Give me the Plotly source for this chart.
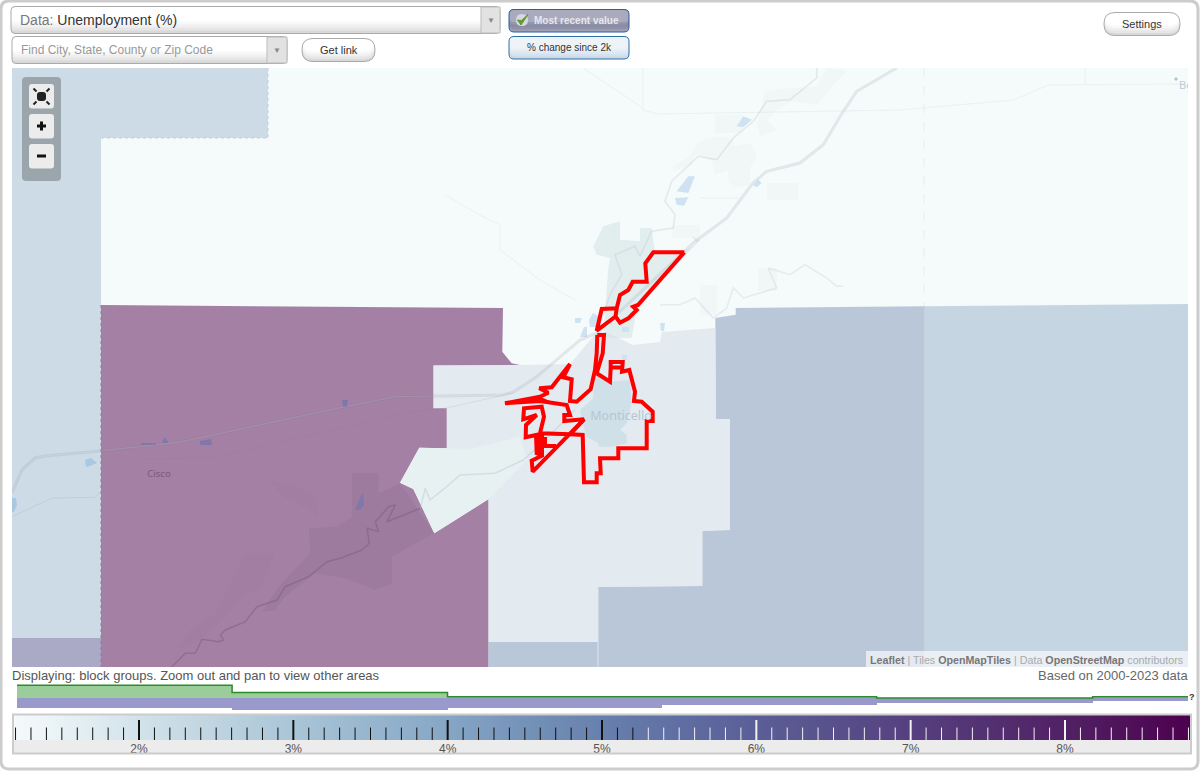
import numpy as np
import plotly.graph_objects as go

# histogram under the legend (bin edges in %, bar heights)
hist_edges = [1.209, 2.603, 3.999, 5.39, 6.78, 8.18, 8.798]
green_vals = [12.7, 5.4, 1.2, 1.2, 0.0, 1.2]
purple_vals = [9.6, 12.4, 9.6, 7.3, 4.6, 3.0]

# legend colour ramp
ramp_vals = [1.19, 1.6, 2, 2.5, 3, 3.5, 4, 4.5, 5, 5.5, 6, 6.5, 7, 7.5, 8, 8.4, 8.81]
ramp_cols = ["#f4fafb", "#e4eff3", "#d2e2ea", "#bed4e0", "#a9c5d8", "#97b5ce", "#86a6c5", "#7492b8",
             "#6880ad", "#5f6ea2", "#5b5e96", "#58508b", "#56407f", "#533071", "#512164", "#4f1159", "#4d004f"]
legend_major = [2, 3, 4, 5, 6, 7, 8]
legend_labels = ["2%", "3%", "4%", "5%", "6%", "7%", "8%"]

# block group polygons, map pixels
poly_left = [(12, 68), (268, 68), (268, 138), (101, 138), (101, 638), (12, 638)]
poly_left_low = [(12, 638), (101, 638), (101, 667), (12, 667)]
poly_purple = [(101, 305), (503, 308), (502.3, 351.7), (511.7, 363.3), (520, 365), (433.3, 365.3), (433.3, 408.3),
               (446.7, 408.3), (446.7, 448.3), (419.3, 447.7), (400, 482.7), (413.3, 489), (434.3, 533.3),
               (488.3, 499.3), (488.3, 667), (101, 667)]
poly_centre = [(433.3, 365.3), (520, 365), (570, 364), (597, 332), (606, 332), (633, 345), (660, 342), (662, 332),
               (715.3, 328), (715.7, 419), (730, 419), (730, 530), (702.3, 530.7), (702.3, 586), (598, 586.7),
               (598, 641.7), (488.3, 641.7), (488.3, 499.3), (434.3, 533.3), (413.3, 489), (400, 482.7),
               (419.3, 447.7), (446.7, 448.3), (446.7, 408.3), (433.3, 408.3)]
poly_right = [(598, 586.7), (702.3, 586), (702.3, 530.7), (730, 530), (730, 419), (715.7, 419), (715.3, 318),
              (735.7, 314.7), (735.7, 308), (924, 306.3), (924, 667), (488.3, 667), (488.3, 641.7), (598, 641.7)]
poly_far_right = [(924, 306.3), (1188, 304), (1188, 667), (924, 667)]
poly_river_band = [(400, 482.7), (419.3, 447.7), (446.7, 448.3), (466.7, 450), (520, 436.7), (526.7, 460),
                   (488.3, 499.3), (434.3, 533.3), (413.3, 489)]
poly_town = [(580, 410), (593.3, 398.3), (595, 373.3), (610, 381.7), (630, 380), (631.7, 403.3), (626.7, 423.3),
             (620, 430), (626.7, 435), (626.7, 443.3), (611.7, 446.7), (598.3, 446.7), (598.3, 443.3),
             (586.7, 436.7), (581.7, 420)]
poly_north_town = [(593.3, 246.3), (603.3, 226.3), (620, 221.3), (620, 239.7), (640, 241.3), (640, 228),
                   (651.7, 228), (653.3, 241.3), (655, 251), (685, 251), (696.7, 243), (691.7, 236.3),
                   (700, 240), (636.7, 308), (631.7, 338), (603.3, 338), (608.3, 268), (610, 258), (596.7, 254.7)]
poly_south_dark = [(352, 473.3), (378.7, 473.3), (378.7, 493.3), (400.3, 483.3), (433.7, 533.3), (392, 556.7),
                   (392, 583.3), (375.3, 590), (345.3, 578.3), (315.3, 573.3), (285.3, 596.7), (275, 610),
                   (262, 612), (280, 585), (310.3, 553.3), (308.7, 528.3), (337, 526.7), (352, 516.7)]
poly_faint_a = [(765, 91), (793, 88), (817, 86), (827, 68), (847, 71), (833, 85), (817, 105), (793, 101), (777, 110),
                (767, 120), (777, 130), (760, 136), (757, 125)]
poly_faint_b = [(696.7, 144.7), (706.7, 138), (723.3, 136.3), (733.3, 139.7), (733.3, 146.3), (750, 143),
                (756.7, 156.3), (750, 168), (750, 184.7), (735, 188), (728.3, 181.3), (728.3, 171.3), (715, 174.7),
                (711.7, 161.3), (698.3, 154.7), (693.3, 156.3), (691.7, 164.7), (673.3, 171.3), (673.3, 166.3),
                (690, 156.3)]
poly_faint_c = [(715, 115), (742, 115), (742, 133), (715, 133)]
poly_faint_d = [(767, 183), (798, 183), (798, 200), (767, 200)]
poly_faint_e = [(672, 225), (700, 225), (700, 238), (672, 238)]
poly_faint_f = [(758, 268), (777, 268), (777, 291), (758, 291)]
poly_faint_g = [(700, 285), (717, 285), (717, 315), (700, 315)]
poly_purple_a = [(245, 553), (275, 553), (262, 585), (240, 600), (224, 618), (210, 630), (200, 640), (178, 650),
                 (190, 630), (215, 615)]
poly_purple_b = [(270, 480), (290, 485), (315, 495), (318, 515), (300, 505), (280, 495)]

# lakes
lakes_pale = [[(676.7, 191.3), (681.7, 184.7), (688.3, 176.3), (695, 176.3), (688.3, 193)],
              [(675, 198), (688.3, 197.3), (684, 205.7), (676.7, 204.7)],
              [(736.7, 126.3), (743.3, 116.3), (751.7, 119.7), (743.3, 127.3)],
              [(753.3, 185.3), (758.3, 179.7), (761.7, 183), (756.7, 187.3)],
              [(575, 318), (582, 318), (580, 323), (575, 323)],
              [(580, 337), (584, 327), (587, 327), (587, 337)],
              [(589, 320), (593, 313), (598, 316), (598, 327), (590, 327)],
              [(622, 327), (629, 327), (629, 332), (622, 332)],
              [(660, 323), (665, 323), (664, 331), (661, 331)],
              [(622, 355), (627, 355), (627, 360), (622, 360)]]
lakes_blue = [[(85, 460), (91, 458), (97, 463), (90, 466), (86, 467)],
              [(12, 498), (16, 498), (17, 505), (14, 512), (12, 512)]]
lakes_dark = [[(355, 510), (360, 498), (363, 492), (364, 505), (360, 510)],
              [(200, 441), (211, 439), (212, 445), (200, 445)],
              [(342, 400), (348, 400), (347, 407), (343, 407)],
              [(141, 443), (156, 443), (156, 445), (141, 445)],
              [(162, 442), (165, 437), (168, 442), (168, 443), (162, 443)]]

# roads and rivers
freeway = [(12, 493), (22, 470), (35, 458), (45, 456), (102, 450.7), (178.7, 442.3), (345, 406.7), (395.3, 396.7),
           (502, 395), (513, 392.3), (536.7, 376.7), (580, 340), (596.7, 333), (693.3, 243), (726.7, 218),
           (753, 183), (766.7, 171.3), (800, 163), (823.3, 144.7), (843.3, 111.3), (856.7, 91.3), (896.7, 68)]
old_road = [(12, 516.7), (52, 498), (95.3, 497.3), (102, 490), (117, 470), (142, 459), (215.3, 457.3), (412, 411.7),
            (445.3, 408.3), (513, 393)]
river_main = [(172, 666.7), (185.3, 653.3), (195.3, 653.3), (202, 639.3), (218.7, 641.7), (223.7, 640), (220.3, 635),
              (225.3, 630), (245.3, 621.7), (257, 606.7), (277, 600), (285.3, 586.7), (308.7, 576.7), (318.7, 568.3),
              (327, 561.7), (340.3, 558.3), (362, 550), (369.3, 543.3), (367, 528.3), (378.7, 531.7), (375.3, 521.7),
              (388.7, 506.7), (395.3, 505), (387, 521.7), (420.3, 508.3)]
river_light = [(420.3, 508.3), (425.3, 488.3), (430, 500), (446.7, 486.7), (460, 475), (495, 473.3), (523.3, 460),
               (540, 445), (575, 410)]
river_north = [(598, 330), (610, 294.7), (621.7, 274.7), (615, 254.7), (635, 246.3), (640, 256.3), (651.7, 231.3),
               (673.3, 228), (675, 214.7), (665, 201.3), (671.7, 181.3), (698.3, 156.3), (716.7, 159.7),
               (733.3, 138), (753.3, 121.3), (766.7, 101.3), (790, 99.7), (816.7, 78), (816.7, 68)]
river_east = [(660, 304.7), (680, 304.7), (695, 298), (713.3, 318), (726.7, 308), (733.3, 288), (743.3, 298),
              (776.7, 288), (768.3, 268), (790, 274.7), (805, 264.7), (826.7, 278), (836.7, 286.3), (843.3, 286.3)]
faint_roads = [[(643, 68), (643, 110), (657, 114), (900, 110), (1014, 100), (1048, 85), (1180, 84)],
               [(583, 68), (643, 108)],
               [(1085, 68), (1085, 84)],
               [(157, 460), (157, 667)],
               [(445, 195), (480, 215), (500, 225), (500, 250), (540, 280), (575, 300)],
               [(700, 198), (716, 198), (738, 198)]]

# highlighted outline
outline_south = [(597.3, 335), (596.7, 353.3), (595, 370), (590.7, 389.3), (576.7, 401.7), (570, 401), (571.7, 379.3),
                 (563.3, 377.3), (570, 364), (551.7, 387.3), (539.3, 388.3), (548.3, 392.7), (540, 396.7), (505, 403.3),
                 (540, 401), (566.7, 405), (570, 415), (564.3, 415), (564.3, 421), (584, 419.3), (570, 434.3),
                 (582.7, 435), (584, 482.3), (596.7, 482.3), (596.7, 473.3), (600.7, 473.3), (600, 458.3),
                 (618.3, 458.3), (618.3, 448.3), (646.7, 448.3), (646.7, 421), (652.7, 421), (652.7, 411.7),
                 (641.7, 401.7), (634, 401), (635, 391.7), (629.3, 370), (622, 371.7), (622.7, 362), (610.7, 362),
                 (610.7, 367.5), (622, 367.5), (610.7, 367.5), (610, 381.7), (596.7, 373.3), (602.7, 353.3),
                 (604, 335), (597.3, 335)]
outline_north = [(684.3, 252.3), (653.3, 252.3), (645.3, 263.3), (646.7, 281.7), (632.7, 281.7), (628.3, 290), (620, 295),
                 (616.7, 308.3), (601.7, 309), (596.7, 330.7), (615.5, 316.5), (616.7, 308.3), (615.5, 316.5),
                 (620, 322.7), (628.3, 318.3), (636.7, 310), (633.3, 306.7), (638, 305), (684.3, 252.3)]
outline_west = [(570, 434.3), (540, 433.3), (544, 416.7), (541.7, 406.7), (524, 408.3), (523.3, 419.3), (536.7, 415),
                (526, 425), (525.7, 437.3), (536, 435), (536.7, 453.3), (543.3, 455), (531.7, 460.7), (532.7, 471.7),
                (584, 419.3)]
outline_block = [(536, 433), (544, 433), (544, 455), (537, 453)]
outline_notch = [(545, 437), (545, 446), (556, 446)]
outline_wedge = [(505, 403.3), (540, 396.7), (550, 401), (540, 401.5)]


fig = go.Figure()


def xs(pts):
    return [p[0] for p in pts]


def ys(pts):
    return [p[1] for p in pts]


def add_poly(pts, color):
    fig.add_trace(go.Scatter(x=xs(pts), y=ys(pts), mode="none", fill="toself", fillcolor=color,
                             hoverinfo="skip", xaxis="x2", yaxis="y2"))


def add_line(pts, color, width=1.0, dash=None):
    fig.add_trace(go.Scatter(x=xs(pts), y=ys(pts), mode="lines", line=dict(color=color, width=width, dash=dash),
                             hoverinfo="skip", xaxis="x2", yaxis="y2"))


def round_path(x0, y0, x1, y1, r):
    return (f"M{x0 + r},{y0} L{x1 - r},{y0} Q{x1},{y0} {x1},{y0 + r} L{x1},{y1 - r} Q{x1},{y1} {x1 - r},{y1} "
            f"L{x0 + r},{y1} Q{x0},{y1} {x0},{y1 - r} L{x0},{y0 + r} Q{x0},{y0} {x0 + r},{y0} Z")


def box(x0, y0, x1, y1, r, fill, line=None, width=1, layer="above"):
    fig.add_shape(type="path", path=round_path(x0, y0, x1, y1, r), fillcolor=fill, xref="x", yref="y", layer=layer,
                  line=dict(color=line if line else "rgba(0,0,0,0)", width=width if line else 0))


def fade_box(x0, y0, x1, y1, r, cols, line):
    # gradient faked with stacked boxes, darkest at the bottom
    h = (y1 - y0) * 0.55 / len(cols)
    for i, c in enumerate(cols):
        box(x0, y0, x1, y1 - i * h, r, c)
    box(x0, y0, x1, y1, r, "rgba(0,0,0,0)", line)


def note(x, y, text, size=12, color="#555", anchor="left", family="Liberation Sans"):
    fig.add_annotation(x=x, y=y, xref="x", yref="y", text=text, showarrow=False, xanchor=anchor, yanchor="middle",
                       font=dict(size=size, color=color, family=family), xshift=0, borderpad=0, borderwidth=0)


# page axes need one trace to exist
fig.add_trace(go.Scatter(x=[0], y=[0], mode="none", hoverinfo="skip", xaxis="x", yaxis="y"))

# map
add_poly([(12, 68), (1188, 68), (1188, 667), (12, 667)], "#f5fafa")
for p in [poly_faint_a, poly_faint_b, poly_faint_c, poly_faint_d, poly_faint_e, poly_faint_f, poly_faint_g]:
    add_poly(p, "#f1f6f6")
for r in faint_roads:
    add_line(r, "rgba(190,205,210,0.2)", 1)
add_poly(poly_left, "#cddbe6")
add_poly(poly_left_low, "#aaaac6")
add_poly(poly_right, "#bac7d9")
add_poly(poly_far_right, "#c6d5e2")
add_poly(poly_centre, "#e3ebf1")
add_poly(poly_purple, "#a480a4")
add_poly(poly_purple_a, "rgba(120,90,130,0.05)")
add_poly(poly_purple_b, "rgba(120,90,130,0.05)")
add_poly(poly_south_dark, "rgba(110,90,125,0.12)")
add_poly(poly_river_band, "#e8f1f1")
add_poly(poly_north_town, "rgba(205,222,225,0.45)")
add_poly(poly_town, "#cfe0e8")
for lake in lakes_pale:
    add_poly(lake, "#cfe2f3")
for lake in lakes_blue:
    add_poly(lake, "#a9c8e2")
for lake in lakes_dark:
    add_poly(lake, "#8077aa")
add_line(river_east, "rgba(175,195,205,0.25)", 1.5)
add_line(river_north, "rgba(175,195,205,0.3)", 1.5)
add_line(river_light, "rgba(175,195,205,0.4)", 1.5)
add_line(river_main, "rgba(110,85,130,0.4)", 1.5)
add_line(old_road, "rgba(120,125,145,0.14)", 1)
add_line(freeway, "rgba(120,130,150,0.16)", 3)
add_line(freeway, "rgba(255,255,255,0.12)", 1)
add_line([(268, 68), (268, 138), (101, 138)], "#c2d1de", 1, "dot")
add_line([(101, 305), (101, 667)], "#96789c", 1, "dot")
add_line([(924, 68), (924, 306)], "#e6eef0", 1, "dash")
add_line([(924, 306), (924, 667)], "#bfcddb", 1, "dot")
add_line([(598, 586), (598, 667)], "#dde5ea", 1)
add_poly([(1176, 77), (1178, 79), (1176, 81), (1174, 79)], "#b5c0c8")
for pts in [outline_south, outline_north, outline_west, outline_notch]:
    add_line(pts, "#ff0000", 4)
add_poly(outline_block, "#ff0000")
add_poly(outline_wedge, "#ff0000")
fig.add_trace(go.Scatter(x=[621, 159, 1179], y=[417, 474.5, 86], mode="text", text=["Monticello", "Cisco", "Bo"],
                         textfont=dict(size=[12.5, 9.5, 11], color=["#b4c6d6", "#7c5a80", "#bccad4"], family="Noto Sans"),
                         textposition=["middle center", "middle center", "middle right"],
                         hoverinfo="skip", xaxis="x2", yaxis="y2"))

# histogram strip
hist_mid = [(a + b) / 2 for a, b in zip(hist_edges[:-1], hist_edges[1:])]
hist_w = [b - a for a, b in zip(hist_edges[:-1], hist_edges[1:])]
fig.add_trace(go.Bar(x=hist_mid, y=green_vals, width=hist_w, marker=dict(color="#9bcd9b", line=dict(width=0)),
                     hoverinfo="skip", xaxis="x3", yaxis="y3"))
fig.add_trace(go.Bar(x=hist_mid, y=[-v for v in purple_vals], width=hist_w, marker=dict(color="#9999cc", line=dict(width=0)),
                     hoverinfo="skip", xaxis="x3", yaxis="y3"))
fig.add_trace(go.Scatter(x=hist_edges, y=green_vals + green_vals[-1:], mode="lines",
                         line=dict(color="#2a8c2a", width=1.5, shape="hv"), hoverinfo="skip", xaxis="x3", yaxis="y3"))

# legend ramp
zmin, zmax = ramp_vals[0], ramp_vals[-1]
scale = [[(v - zmin) / (zmax - zmin), c] for v, c in zip(ramp_vals, ramp_cols)]
fig.add_trace(go.Heatmap(x=ramp_vals, y=[0, 1], z=[ramp_vals, ramp_vals], zmin=zmin, zmax=zmax, colorscale=scale,
                         zsmooth="best", showscale=False, hoverinfo="skip", xaxis="x4", yaxis="y4"))

# legend ticks, dark up to 5.2 and white after
tick_vals = np.round(np.arange(1.2, 8.85, 0.1), 1)
for lo, hi, col in [(1.15, 5.25, "#111111"), (5.25, 8.85, "#f2f2f2")]:
    minor_x, minor_y, major_x, major_y = [], [], [], []
    for t in tick_vals:
        if not lo < t < hi:
            continue
        if abs(t - round(t)) < 0.01:
            major_x += [t, t, None]
            major_y += [0, 0.8, None]
        else:
            minor_x += [t, t, None]
            minor_y += [0, 0.5, None]
    fig.add_trace(go.Scatter(x=minor_x, y=minor_y, mode="lines", line=dict(color=col, width=1), hoverinfo="skip",
                             xaxis="x4", yaxis="y4"))
    fig.add_trace(go.Scatter(x=major_x, y=major_y, mode="lines", line=dict(color=col, width=2), hoverinfo="skip",
                             xaxis="x4", yaxis="y4"))

# page frame
box(1, 1, 1198, 769, 8, "rgba(0,0,0,0)", "#cccccc", 3)

# legend frame
fig.add_shape(type="rect", x0=13, y0=740, x1=1191, y1=753, fillcolor="#ececec", line=dict(width=0), xref="x", yref="y", layer="below")
fig.add_shape(type="rect", x0=13, y0=714.5, x1=1191, y1=753.5, line=dict(color="#cccccc", width=2), xref="x", yref="y")

# top controls
grey_fade = ["#d9d9d9", "#e6e6e6", "#f0f0f0", "#f8f8f8", "#ffffff"]
fade_box(11, 6.5, 500, 33.5, 4, grey_fade, "#aaaaaa")
fig.add_shape(type="rect", x0=481, y0=7, x1=500, y1=33, fillcolor="#e2e2e2", line=dict(color="#bbbbbb", width=1), xref="x", yref="y")
note(490.5, 20, "▼", 8, "#888888", "center")
note(20, 20, '<span style="color:#777777">Data:</span> Unemployment (%)', 14, "#333333")
fade_box(12, 36.5, 287, 63.5, 4, grey_fade, "#aaaaaa")
fig.add_shape(type="rect", x0=267, y0=37, x1=287, y1=63, fillcolor="#e2e2e2", line=dict(color="#bbbbbb", width=1), xref="x", yref="y")
note(277, 50, "▼", 8, "#888888", "center")
note(21, 50, "Find City, State, County or Zip Code", 12, "#999999")
fade_box(302, 38.5, 375, 61.5, 11, grey_fade, "#aaaaaa")
note(339, 50, "Get link", 11, "#333333", "center")
fade_box(1104, 12.5, 1180, 35.5, 11, grey_fade, "#aaaaaa")
note(1142, 24, "Settings", 11, "#333333", "center")

fade_box(509, 9.5, 629, 32, 5, ["#9fa1b6", "#8f91a8", "#8a8ca4", "#9496ad", "#a9abbd"], "#2c5f9e")
box(516, 14, 528, 26, 6, "#d8d8dc")
fig.add_shape(type="path", path="M517.5,20 L521,25 L528,14.5 L521.5,20.5 Z", fillcolor="#5f9a32",
              line=dict(color="#5f9a32", width=1), xref="x", yref="y")
note(576.5, 20, "<b>Most recent value</b>", 10, "#e6e6ec", "center")
fade_box(509, 36.5, 629, 59, 5, ["#c9d9e8", "#d5e2ee", "#dde8f2", "#e5edf5", "#eef3f8"], "#2f6fa8")
note(569, 47, "% change since 2k", 10, "#333333", "center")

# map controls
box(22, 77, 61, 181, 4, "#9aa6ab")
for y0 in [84, 114, 144]:
    box(29, y0, 54, y0 + 24.5, 3, "#ececec")
box(37, 92, 46, 101, 3, "#222222")
for cx, cy, dx, dy in [(33.5, 88.5, 3, 3), (49.5, 88.5, -3, 3), (33.5, 104.5, 3, -3), (49.5, 104.5, -3, -3)]:
    fig.add_shape(type="line", x0=cx, y0=cy, x1=cx + dx, y1=cy + dy, line=dict(color="#222222", width=2), xref="x", yref="y")
fig.add_shape(type="rect", x0=37, y0=124.5, x1=46, y1=127.5, fillcolor="#111111", line=dict(width=0), xref="x", yref="y")
fig.add_shape(type="rect", x0=40, y0=121.5, x1=43, y1=130.5, fillcolor="#111111", line=dict(width=0), xref="x", yref="y")
fig.add_shape(type="rect", x0=37, y0=154.5, x1=46, y1=157.5, fillcolor="#111111", line=dict(width=0), xref="x", yref="y")

# attribution
fig.add_shape(type="rect", x0=866, y0=651, x1=1188, y1=667, fillcolor="rgba(255,255,255,0.62)", line=dict(width=0), xref="x", yref="y")
note(1183, 659.5, '<b>Leaflet</b> <span style="color:#aaaaaa">|</span> <span style="color:#aaaaaa">Tiles</span> <b>OpenMapTiles</b> '
     '<span style="color:#aaaaaa">| Data</span> <b>OpenStreetMap</b> <span style="color:#aaaaaa">contributors</span>',
     10.7, "#777777", "right")

note(12, 675, "Displaying: block groups. Zoom out and pan to view other areas", 13, "#555555")
note(1188, 675, "Based on 2000-2023 data", 13, "#666666", "right")
note(1192, 696.5, "<b>?</b>", 9, "#333333", "center")

hidden = dict(visible=False, showgrid=False, zeroline=False)
fig.update_layout(
    width=1200, height=771, margin=dict(l=0, r=0, t=0, b=0), showlegend=False, barmode="overlay", bargap=0,
    paper_bgcolor="white", plot_bgcolor="rgba(0,0,0,0)",
    xaxis=dict(range=[0, 1200], domain=[0, 1], anchor="y", **hidden),
    yaxis=dict(range=[771, 0], domain=[0, 1], anchor="x", **hidden),
    xaxis2=dict(range=[12, 1188], domain=[12 / 1200, 1188 / 1200], anchor="y2", **hidden),
    yaxis2=dict(range=[667, 68], domain=[(771 - 667) / 771, (771 - 68) / 771], anchor="x2", **hidden),
    xaxis3=dict(range=[1.209, 8.798], domain=[17 / 1200, 1188 / 1200], anchor="y3", **hidden),
    yaxis3=dict(range=[-13, 14], domain=[(771 - 711) / 771, (771 - 684) / 771], anchor="x3", **hidden),
    xaxis4=dict(range=[1.19, 8.81], domain=[14 / 1200, 1190 / 1200], anchor="y4", showgrid=False, zeroline=False,
                showline=False, ticks="", tickmode="array", tickvals=legend_major, ticktext=legend_labels,
                tickfont=dict(size=12, color="#555555", family="Liberation Sans")),
    yaxis4=dict(range=[0, 1], domain=[(771 - 740) / 771, (771 - 715) / 771], anchor="x4", **hidden),
)

fig.write_html("out.html", config={"displayModeBar": False},
               post_script="document.body.style.margin='0';document.body.style.overflow='hidden';")
